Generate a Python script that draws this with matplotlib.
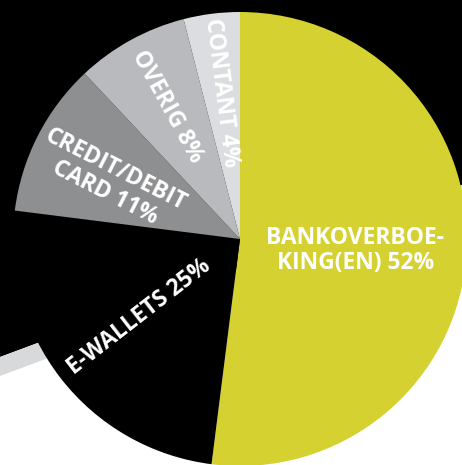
import matplotlib
matplotlib.use("Agg")
import matplotlib.pyplot as plt
import numpy as np
from matplotlib.patches import Polygon

labels = ["BANKOVERBOE-\nKING(EN) 52%", "E-WALLETS 25%", "CREDIT/DEBIT\nCARD 11%", "OVERIG 8%", "CONTANT 4%"]
values = [52, 25, 11, 8, 4]
colors = ["#d5d131", "#000000", "#8e8f91", "#b9babd", "#dcdde0"]
label_dist = [0.51, 0.56, 0.625, 0.665, 0.65]
label_shift = [-2.0, 0.0, 3.0, 0.0, 0.0]

W, H = 462, 465
fig = plt.figure(figsize=(W / 100, H / 100), dpi=100)
ax = fig.add_axes([0, 0, 1, 1])
ax.set_xlim(0, W)
ax.set_ylim(0, H)
ax.set_aspect("equal")
ax.axis("off")
fig.patch.set_facecolor("white")

# background: black top, grey stripe, white below
def yu(y):
    return H - y
x0, x1 = -5, W + 5
def line_y(x, off=0):
    return 357 + off + (185 - 357) * (x / W)
ax.add_patch(Polygon([(x0, yu(line_y(x0))), (x1, yu(line_y(x1))), (x1, H + 5), (x0, H + 5)],
                     closed=True, facecolor="black", edgecolor="none", zorder=0))
ax.add_patch(Polygon([(x0, yu(line_y(x0))), (x1, yu(line_y(x1))), (x1, yu(line_y(x1, 19))), (x0, yu(line_y(x0, 19)))],
                     closed=True, facecolor="#d8d9db", edgecolor="none", zorder=0))

cx, cy, R = 240, yu(239), 227
wedges, _ = ax.pie(values, colors=colors, startangle=90, counterclock=False,
                   center=(cx, cy), radius=R, frame=True,
                   wedgeprops=dict(linewidth=0))
for w in wedges:
    w.set_zorder(2)
ax.set_xlim(0, W)
ax.set_ylim(0, H)
ax.axis("off")

total = sum(values)
start = 90.0
for i, (lab, v) in enumerate(zip(labels, values)):
    mid = start - v / total * 360 / 2
    start -= v / total * 360
    ang = mid + label_shift[i]
    r = label_dist[i] * R
    x = cx + r * np.cos(np.radians(ang))
    y = cy + r * np.sin(np.radians(ang))
    rot = 0 if i == 0 else mid - 180
    if rot < -180:
        rot += 360
    ax.text(x, y, lab, color="white", fontsize=16.5, fontweight="bold", family="Open Sans",
            ha="center", va="center", rotation=rot, rotation_mode="anchor",
            multialignment="center", linespacing=1.05, zorder=3)

fig.savefig("out.png", dpi=100)
